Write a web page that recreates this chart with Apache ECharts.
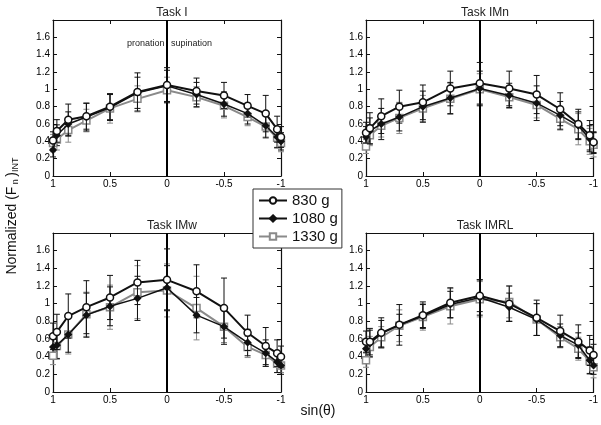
<!DOCTYPE html>
<html><head><meta charset="utf-8">
<script src="https://cdn.jsdelivr.net/npm/echarts@6/dist/echarts.min.js"></script>
<style>html,body{margin:0;padding:0;background:#fff}#c{width:601px;height:425px}</style>
</head><body><div id="c"></div>
<script>
// sin(theta) positions (x) - 90..-90 deg in 15 deg steps
const sinTheta = [1, 0.966, 0.866, 0.707, 0.5, 0.259, 0, -0.259, -0.5, -0.707, -0.866, -0.966, -1];
const seriesNames = ['830 g', '1080 g', '1330 g'];
const panelTitles = ['Task I', 'Task IMn', 'Task IMw', 'Task IMRL'];
const yTicks = [0, 0.2, 0.4, 0.6, 0.8, 1, 1.2, 1.4, 1.6];
const xTicks = [1, 0.5, 0, -0.5, -1];

// Task I
const taskI_830 = [0.41,0.52,0.65,0.69,0.80,0.97,1.05,0.98,0.93,0.81,0.72,0.54,0.45];
const taskI_830_err = [0.10,0.13,0.18,0.15,0.15,0.22,0.20,0.15,0.15,0.13,0.21,0.15,0.12];
const taskI_1080 = [0.30,0.47,0.60,0.68,0.79,0.96,1.04,0.94,0.83,0.72,0.58,0.45,0.40];
const taskI_1080_err = [0.08,0.12,0.14,0.16,0.15,0.18,0.18,0.14,0.14,0.12,0.14,0.12,0.10];
const taskI_1330 = [0.38,0.42,0.53,0.64,0.78,0.89,0.99,0.91,0.81,0.68,0.57,0.44,0.38];
const taskI_1330_err = [0.10,0.12,0.14,0.13,0.17,0.15,0.15,0.12,0.14,0.10,0.12,0.12,0.10];
// Task IMn
const taskIMn_830 = [0.50,0.55,0.69,0.80,0.85,1.01,1.07,1.01,0.94,0.77,0.60,0.47,0.39];
const taskIMn_830_err = [0.12,0.18,0.20,0.19,0.20,0.20,0.24,0.20,0.22,0.19,0.17,0.17,0.12];
const taskIMn_1080 = [0.45,0.52,0.60,0.68,0.80,0.90,1.01,0.93,0.84,0.70,0.58,0.43,0.38];
const taskIMn_1080_err = [0.12,0.15,0.18,0.16,0.18,0.18,0.20,0.14,0.20,0.16,0.16,0.15,0.12];
const taskIMn_1330 = [0.34,0.47,0.58,0.67,0.78,0.89,1.00,0.91,0.82,0.66,0.54,0.40,0.36];
const taskIMn_1330_err = [0.08,0.12,0.13,0.18,0.15,0.18,0.18,0.13,0.15,0.13,0.18,0.15,0.14];
// Task IMw
const taskIMw_830 = [0.63,0.68,0.86,0.96,1.07,1.24,1.27,1.14,0.95,0.67,0.52,0.44,0.40];
const taskIMw_830_err = [0.15,0.20,0.25,0.30,0.25,0.25,0.35,0.30,0.34,0.20,0.21,0.15,0.12];
const taskIMw_1080 = [0.51,0.53,0.65,0.87,0.97,1.06,1.18,0.87,0.74,0.56,0.44,0.34,0.30];
const taskIMw_1080_err = [0.12,0.15,0.20,0.25,0.22,0.25,0.25,0.20,0.20,0.15,0.15,0.12,0.10];
const taskIMw_1330 = [0.41,0.52,0.65,0.88,0.96,1.13,1.15,0.95,0.74,0.51,0.42,0.32,0.30];
const taskIMw_1330_err = [0.10,0.15,0.22,0.25,0.25,0.30,0.30,0.36,0.18,0.12,0.13,0.10,0.08];
// Task IMRL
const taskIMRL_830 = [0.57,0.57,0.67,0.76,0.87,1.01,1.09,1.00,0.84,0.69,0.57,0.47,0.42];
const taskIMRL_830_err = [0.12,0.15,0.17,0.23,0.15,0.17,0.18,0.20,0.20,0.18,0.19,0.17,0.12];
const taskIMRL_1080 = [0.49,0.55,0.66,0.76,0.86,0.99,1.07,0.96,0.82,0.64,0.53,0.36,0.30];
const taskIMRL_1080_err = [0.10,0.15,0.15,0.12,0.13,0.15,0.20,0.16,0.18,0.13,0.14,0.15,0.10];
const taskIMRL_1330 = [0.36,0.51,0.62,0.75,0.85,0.97,1.05,1.02,0.82,0.62,0.49,0.35,0.28];
const taskIMRL_1330_err = [0.08,0.12,0.12,0.18,0.15,0.20,0.20,0.18,0.18,0.12,0.13,0.15,0.12];

const panels = [
  [[taskI_830, taskI_830_err],[taskI_1080, taskI_1080_err],[taskI_1330, taskI_1330_err]],
  [[taskIMn_830, taskIMn_830_err],[taskIMn_1080, taskIMn_1080_err],[taskIMn_1330, taskIMn_1330_err]],
  [[taskIMw_830, taskIMw_830_err],[taskIMw_1080, taskIMw_1080_err],[taskIMw_1330, taskIMw_1330_err]],
  [[taskIMRL_830, taskIMRL_830_err],[taskIMRL_1080, taskIMRL_1080_err],[taskIMRL_1330, taskIMRL_1330_err]]
];

const FONT = 'Liberation Sans, Arial, sans-serif';
const gridPos = [
  {left: 53, top: 20, width: 228, height: 156},
  {left: 366, top: 20, width: 228, height: 156},
  {left: 53, top: 233, width: 228, height: 159},
  {left: 366, top: 233, width: 228, height: 159}
];
const styles = [
  {color: '#111', width: 2, symbol: 'circle', size: 7, fill: '#fff', z: 5},
  {color: '#111', width: 1.5, symbol: 'diamond', size: 6, fill: '#111', z: 4},
  {color: '#8a8a8a', width: 2, symbol: 'rect', size: 7, fill: '#fff', z: 3}
];

const grid = [], xAxis = [], yAxis = [], series = [], titles = [];
panels.forEach((panel, p) => {
  grid.push(Object.assign({containLabel: false}, gridPos[p]));
  const axisLine = {show: true, onZero: false, lineStyle: {color: '#111', width: 1.2}};
  const axisTick = {show: true, inside: true, length: 4, lineStyle: {color: '#111'}};
  const lbl = {fontFamily: FONT, fontSize: 10, color: '#000', margin: 3};
  xAxis.push({gridIndex: p, type: 'value', min: -1, max: 1, interval: 0.5, inverse: true,
    axisLine, axisTick, splitLine: {show: false},
    axisLabel: Object.assign({}, lbl, {formatter: v => xTicks.indexOf(v) >= 0 ? String(v) : ''})});
  xAxis.push({gridIndex: p, type: 'value', position: 'top', min: -1, max: 1, interval: 0.5, inverse: true,
    axisLine, axisTick, splitLine: {show: false}, axisLabel: {show: false}});
  yAxis.push({gridIndex: p, type: 'value', min: 0, max: 1.8, interval: 0.2,
    axisLine, axisTick, splitLine: {show: false},
    axisLabel: Object.assign({}, lbl, {formatter: v => { const r = Math.round(v * 10) / 10; return yTicks.indexOf(r) >= 0 ? String(r) : ''; }})});
  yAxis.push({gridIndex: p, type: 'value', position: 'right', min: 0, max: 1.8, interval: 0.2,
    axisLine, axisTick, splitLine: {show: false}, axisLabel: {show: false}});
  titles.push({text: panelTitles[p], left: gridPos[p].left + gridPos[p].width / 2, top: gridPos[p].top - 18,
    textAlign: 'center', textStyle: {fontFamily: FONT, fontSize: 12, fontWeight: 'normal', color: '#222'}});
  // draw grey first so black is on top
  [2, 1, 0].forEach(s => {
    const st = styles[s];
    const vals = panel[s][0], errs = panel[s][1];
    series.push({
      type: 'custom', name: 'err' + p + s, xAxisIndex: 2 * p, yAxisIndex: 2 * p, z: st.z,
      silent: true, animation: false,
      data: sinTheta.map((x, i) => [x, vals[i], errs[i]]),
      encode: {x: 0, y: 1},
      renderItem: (params, api) => {
        const x = api.value(0), y = api.value(1), e = api.value(2);
        const hi = api.coord([x, y + e]), lo = api.coord([x, y - e]);
        const c = 3;
        const ls = {stroke: st.color, lineWidth: 1};
        return {type: 'group', children: [
          {type: 'line', shape: {x1: hi[0], y1: hi[1], x2: lo[0], y2: lo[1]}, style: ls},
          {type: 'line', shape: {x1: hi[0] - c, y1: hi[1], x2: hi[0] + c, y2: hi[1]}, style: ls},
          {type: 'line', shape: {x1: lo[0] - c, y1: lo[1], x2: lo[0] + c, y2: lo[1]}, style: ls}
        ]};
      }
    });
    const ser = {
      type: 'line', name: seriesNames[s], xAxisIndex: 2 * p, yAxisIndex: 2 * p, z: st.z + 1,
      data: sinTheta.map((x, i) => [x, vals[i]]),
      symbol: st.symbol, symbolSize: st.size, showSymbol: true, animation: false,
      lineStyle: {color: st.color, width: st.width},
      itemStyle: {color: st.fill, borderColor: st.color, borderWidth: 1.5}
    };
    if (s === 0) {
      ser.markLine = {silent: true, symbol: ['none', 'none'], label: {show: false},
        lineStyle: {color: '#000', width: 2, type: 'solid'}, data: [{xAxis: 0}], animation: false};
    }
    series.push(ser);
  });
});

const chart = echarts.init(document.getElementById('c'), null, {renderer: 'canvas'});
chart.setOption({
  backgroundColor: '#fff',
  animation: false,
  title: titles,
  grid, xAxis, yAxis, series,
  legend: {
    data: seriesNames, orient: 'vertical', left: 253, top: 189, z: 20,
    backgroundColor: '#fff', borderColor: '#333', borderWidth: 1,
    padding: [4, 4, 4, 5], itemGap: 3, itemWidth: 28, itemHeight: 8,
    textStyle: {fontFamily: FONT, fontSize: 15, color: '#111'}
  },
  graphic: [
    {type: 'text', left: 127, top: 39, z: 20, style: {text: 'pronation', font: '9px ' + FONT, fill: '#222'}},
    {type: 'text', left: 171, top: 39, z: 20, style: {text: 'supination', font: '9px ' + FONT, fill: '#222'}},
    {type: 'text', x: 318, y: 411, z: 20, style: {text: 'sin(θ)', font: '14px ' + FONT, fill: '#111', align: 'center', verticalAlign: 'middle'}},
    {type: 'text', x: 12, y: 216, rotation: Math.PI / 2, z: 20,
      style: {text: 'Normalized (F{s| n }){s|INT}', align: 'center', verticalAlign: 'middle',
        font: '14px ' + FONT, fill: '#111',
        rich: {s: {fontSize: 9, fontFamily: FONT, fill: '#111', padding: [8, 0, 0, 0]}}}}
  ]
});
</script></body></html>
